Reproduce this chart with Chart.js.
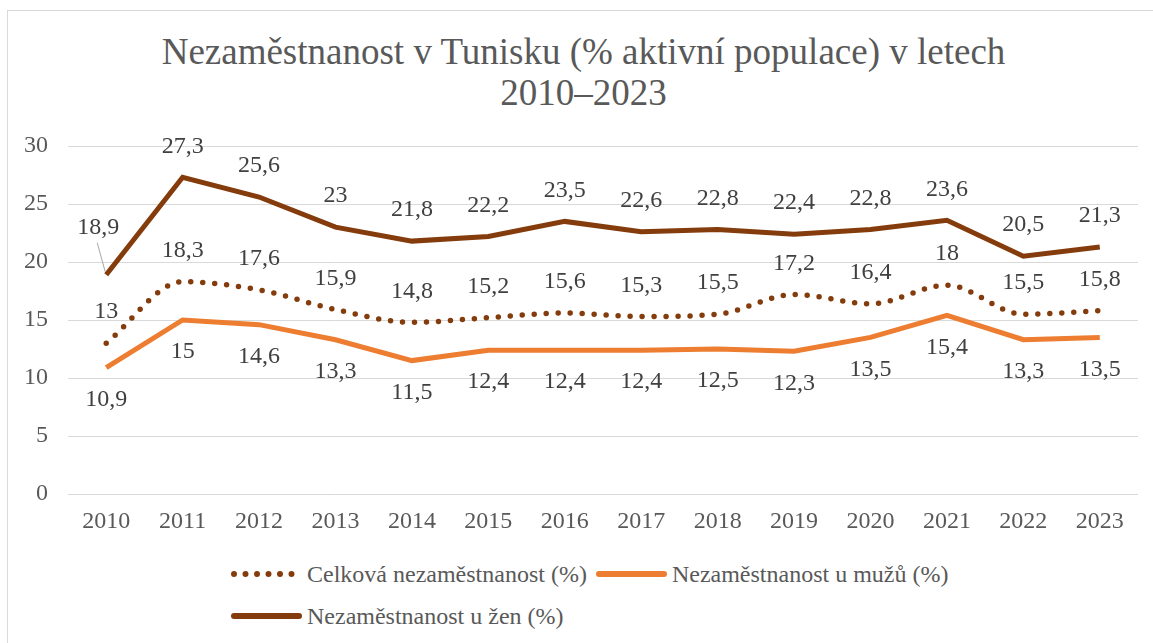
<!DOCTYPE html>
<html>
<head>
<meta charset="utf-8">
<script src="https://cdn.jsdelivr.net/npm/chart.js@4.4.1/dist/chart.umd.min.js"></script>
<style>
  html, body { margin: 0; padding: 0; background: #fff; overflow: hidden; }
  body { width: 1153px; height: 643px; position: relative; font-family: "Liberation Serif", "Times New Roman", serif; }
  #frame { position: absolute; left: 7px; top: 10px; width: 1160px; height: 650px; border: 1px solid #d9d9d9; box-sizing: border-box; }
  #title { position: absolute; left: 7px; width: 1153px; top: 31px; text-align: center; color: #595959; font-size: 37px; line-height: 41px; }
  #chartBox { position: absolute; left: 0; top: 0; width: 1153px; height: 550px; }
  .legendRow { position: absolute; left: 231px; height: 30px; display: flex; align-items: center; color: #595959; font-size: 24px; white-space: nowrap; }
  .legendRow svg { margin-right: 5px; }
</style>
</head>
<body>
<div id="frame"></div>
<div id="title">Nezaměstnanost v Tunisku (% aktivní populace) v letech<br>2010–2023</div>
<div id="chartBox"><canvas id="unemploymentCanvas"></canvas></div>
<div id="legend"></div>

<script>
/* =========================
   Data
   ========================= */
const years = ["2010", "2011", "2012", "2013", "2014", "2015", "2016",
               "2017", "2018", "2019", "2020", "2021", "2022", "2023"];

const totalRate = [13, 18.3, 17.6, 15.9, 14.8, 15.2, 15.6, 15.3, 15.5, 17.2, 16.4, 18, 15.5, 15.8];
const menRate   = [10.9, 15, 14.6, 13.3, 11.5, 12.4, 12.4, 12.4, 12.5, 12.3, 13.5, 15.4, 13.3, 13.5];
const womenRate = [18.9, 27.3, 25.6, 23, 21.8, 22.2, 23.5, 22.6, 22.8, 22.4, 22.8, 23.6, 20.5, 21.3];

const yTicks = [0, 5, 10, 15, 20, 25, 30];

const seriesNames = ["Celková nezaměstnanost (%)", "Nezaměstnanost u mužů (%)", "Nezaměstnanost u žen (%)"];

const BROWN  = "#843C0C";
const ORANGE = "#ED7D31";
const SERIF  = "'Liberation Serif', 'Times New Roman', serif";

/* =========================
   Data labels (Excel-like, comma decimals)
   ========================= */
const valueLabelPlugin = {
  id: "valueLabels",
  afterDatasetsDraw(chart) {
    const ctx = chart.ctx;
    ctx.save();
    ctx.font = "24px " + SERIF;
    ctx.fillStyle = "#404040";
    ctx.textAlign = "center";
    ctx.textBaseline = "middle";

    chart.data.datasets.forEach((ds, di) => {
      const meta = chart.getDatasetMeta(di);
      meta.data.forEach((pt, i) => {
        const txt = String(ds.data[i]).replace(".", ",");
        let dx = 0;
        let dy = ds.labelSide === "below" ? 32 : -31;
        // first women label was pushed up by Excel, with a leader line
        if (ds.leaderIndex === i) {
          dx = -8; dy = -47;
          ctx.strokeStyle = "#a6a6a6";
          ctx.lineWidth = 1;
          ctx.beginPath();
          ctx.moveTo(pt.x - 9, pt.y - 32);
          ctx.lineTo(pt.x - 1, pt.y - 3);
          ctx.stroke();
        }
        ctx.fillText(txt, pt.x + dx, pt.y + dy);
      });
    });
    ctx.restore();
  }
};

/* =========================
   Chart
   ========================= */
const ctx = document.getElementById("unemploymentCanvas").getContext("2d");

new Chart(ctx, {
  type: "line",
  data: {
    labels: years,
    datasets: [
      {
        label: seriesNames[0],
        data: totalRate,
        borderColor: BROWN,
        borderWidth: 5.5,
        borderDash: [0, 12],
        borderCapStyle: "round",
        cubicInterpolationMode: "monotone",
        pointRadius: 0,
        labelSide: "above",
        order: 1
      },
      {
        label: seriesNames[1],
        data: menRate,
        borderColor: ORANGE,
        borderWidth: 5,
        tension: 0,
        pointRadius: 0,
        labelSide: "below",
        order: 2
      },
      {
        label: seriesNames[2],
        data: womenRate,
        borderColor: BROWN,
        borderWidth: 5,
        tension: 0,
        pointRadius: 0,
        labelSide: "above",
        leaderIndex: 0,
        order: 0
      }
    ]
  },
  options: {
    responsive: true,
    maintainAspectRatio: false,
    animation: false,
    layout: { padding: { top: 146, right: 15, left: 0, bottom: 0 } },
    plugins: {
      legend: { display: false },
      title: { display: false },
      tooltip: { enabled: false }
    },
    scales: {
      x: {
        offset: true,
        grid: { display: false, drawTicks: false },
        border: { display: false },
        ticks: {
          color: "#595959",
          padding: 13,
          maxRotation: 0,
          autoSkip: false,
          font: { family: SERIF, size: 24 }
        },
        afterFit(scale) { scale.height = 56; }
      },
      y: {
        min: 0,
        max: 30,
        afterBuildTicks(scale) { scale.ticks = yTicks.map(v => ({ value: v })); },
        grid: { color: "#d9d9d9", lineWidth: 1, drawTicks: false },
        border: { display: false },
        ticks: {
          color: "#595959",
          padding: 20,
          font: { family: SERIF, size: 24 }
        },
        afterFit(scale) { scale.width = 68; }
      }
    }
  },
  plugins: [valueLabelPlugin]
});

/* =========================
   Legend (Excel style, left aligned rows)
   ========================= */
function legendSample(item) {
  if (item.dotted) {
    return `<svg width="71" height="12"><line x1="3" y1="6" x2="64" y2="6" stroke="${item.color}" stroke-width="6" stroke-linecap="round" stroke-dasharray="0 11.5"/></svg>`;
  }
  return `<svg width="71" height="12"><line x1="3" y1="6" x2="68" y2="6" stroke="${item.color}" stroke-width="6" stroke-linecap="round"/></svg>`;
}

const legendItems = [
  { name: seriesNames[0], color: BROWN, dotted: true },
  { name: seriesNames[1], color: ORANGE },
  { name: seriesNames[2], color: BROWN }
];

document.getElementById("legend").innerHTML = `
  <div class="legendRow" style="top:559px;">
    ${legendSample(legendItems[0])}<span>${legendItems[0].name}</span>
    <span style="width:9px"></span>
    ${legendSample(legendItems[1])}<span>${legendItems[1].name}</span>
  </div>
  <div class="legendRow" style="top:601px;">
    ${legendSample(legendItems[2])}<span>${legendItems[2].name}</span>
  </div>
`;
</script>
</body>
</html>
